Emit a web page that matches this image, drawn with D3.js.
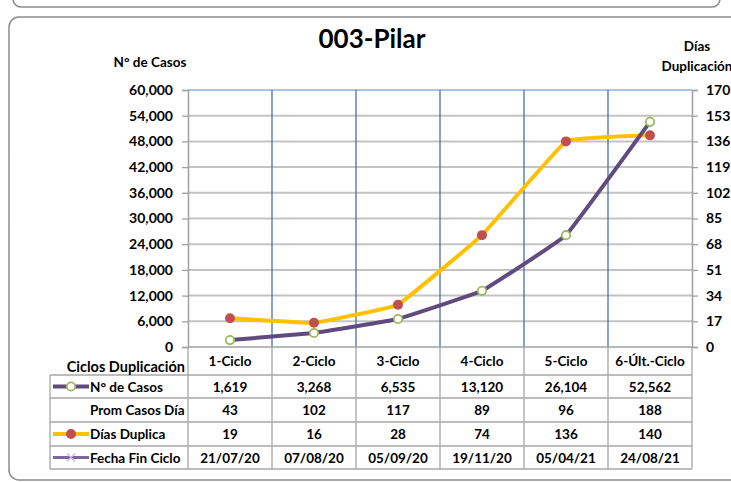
<!DOCTYPE html>
<html>
<head>
<meta charset="utf-8">
<script src="https://cdn.jsdelivr.net/npm/d3@7"></script>
<style>
  body { margin: 0; background: #fff; }
  svg text { font-family: Lato, "Noto Sans", sans-serif; font-weight: bold; fill: #000; }
</style>
</head>
<body>
<div id="graph"></div>
<script>
// chart data
var ciclos = ["1-Ciclo", "2-Ciclo", "3-Ciclo", "4-Ciclo", "5-Ciclo", "6-Últ.-Ciclo"];
var casos = [1619, 3268, 6535, 13120, 26104, 52562];
var promCasosDia = [43, 102, 117, 89, 96, 188];
var diasDuplica = [19, 16, 28, 74, 136, 140];
var fechaFin = ["21/07/20", "07/08/20", "05/09/20", "19/11/20", "05/04/21", "24/08/21"];
var leftTicks = [0, 6000, 12000, 18000, 24000, 30000, 36000, 42000, 48000, 54000, 60000];
var rightTicks = [0, 17, 34, 51, 68, 85, 102, 119, 136, 153, 170];

var svgWidth = 731, svgHeight = 482;
var plot = {left: 188, right: 692, top: 90, bottom: 347};

var svg = d3.select("#graph").append("svg")
  .attr("width", svgWidth)
  .attr("height", svgHeight);

// panel frames
svg.append("rect")
  .attr("x", 13).attr("y", -20).attr("width", 707).attr("height", 27)
  .attr("rx", 8).attr("fill", "none").attr("stroke", "#8c8c8c").attr("stroke-width", 1.5);
svg.append("rect")
  .attr("x", 9).attr("y", 17).attr("width", 740).attr("height", 463)
  .attr("rx", 10).attr("fill", "none").attr("stroke", "#8c8c8c").attr("stroke-width", 1.5);

var x = d3.scaleBand().domain(ciclos).range([plot.left, plot.right]);
var yLeft = d3.scaleLinear().domain([0, 60000]).range([plot.bottom, plot.top]);
var yRight = d3.scaleLinear().domain([0, 170]).range([plot.bottom, plot.top]);

// horizontal grid
svg.append("g").selectAll("line").data(leftTicks.slice(1, -1)).join("line")
  .attr("x1", plot.left).attr("x2", plot.right)
  .attr("y1", d => yLeft(d)).attr("y2", d => yLeft(d))
  .attr("stroke", "#c3c3c3").attr("stroke-width", 2);
svg.append("line")
  .attr("x1", plot.left).attr("x2", plot.right)
  .attr("y1", plot.top).attr("y2", plot.top)
  .attr("stroke", "#8eb0dc").attr("stroke-width", 1.5);

// vertical category lines
svg.append("g").selectAll("line").data(ciclos.slice(1)).join("line")
  .attr("x1", d => x(d)).attr("x2", d => x(d))
  .attr("y1", plot.top).attr("y2", plot.bottom)
  .attr("stroke", "#4a6fa5").attr("stroke-width", 1.3);

// axes
var leftAxis = d3.axisLeft(yLeft).tickValues(leftTicks).tickSize(6).tickPadding(9)
  .tickFormat(d3.format(","));
var gl = svg.append("g").attr("transform", `translate(${plot.left},0)`).call(leftAxis);
var rightAxis = d3.axisRight(yRight).tickValues(rightTicks).tickSize(6).tickPadding(8);
var gr = svg.append("g").attr("transform", `translate(${plot.right},0)`).call(rightAxis);
[gl, gr].forEach(function(g) {
  g.select(".domain").attr("stroke", "#a0a0a0").attr("stroke-width", 1.5);
  g.selectAll(".tick line").attr("stroke", "#a0a0a0").attr("stroke-width", 1.3);
  g.selectAll(".tick text").style("font-size", "14px").attr("fill", "#000");
});
svg.append("line").attr("x1", plot.left).attr("x2", plot.right)
  .attr("y1", plot.bottom).attr("y2", plot.bottom)
  .attr("stroke", "#a0a0a0").attr("stroke-width", 1.5);

// titles
svg.append("text").attr("x", 372).attr("y", 48).attr("text-anchor", "middle")
  .style("font-size", "26px").text("003-Pilar");
svg.append("text").attr("x", 150).attr("y", 67).attr("text-anchor", "middle")
  .style("font-size", "13.5px").text("N° de Casos");
svg.append("text").attr("x", 697).attr("y", 51).attr("text-anchor", "middle")
  .style("font-size", "13.5px").text("Días");
svg.append("text").attr("x", 697).attr("y", 71).attr("text-anchor", "middle")
  .style("font-size", "13.5px").text("Duplicación");

// lines (light smoothing)
var cx = d => x(d) + x.bandwidth() / 2;
var smooth = d3.curveCardinal.tension(0.8);
var casosLine = d3.line().x((d, i) => cx(ciclos[i])).y(d => yLeft(d)).curve(smooth);
var diasLine = d3.line().x((d, i) => cx(ciclos[i])).y(d => yRight(d)).curve(smooth);

svg.append("path").datum(diasDuplica).attr("d", diasLine)
  .attr("fill", "none").attr("stroke", "#ffc000").attr("stroke-width", 4);
svg.append("path").datum(casos).attr("d", casosLine)
  .attr("fill", "none").attr("stroke", "#5f4b7e").attr("stroke-width", 4);

svg.append("g").selectAll("circle").data(diasDuplica).join("circle")
  .attr("cx", (d, i) => cx(ciclos[i])).attr("cy", d => yRight(d)).attr("r", 5)
  .attr("fill", "#c0504d");
svg.append("g").selectAll("circle").data(casos).join("circle")
  .attr("cx", (d, i) => cx(ciclos[i])).attr("cy", d => yLeft(d)).attr("r", 4.2)
  .attr("fill", "#fff").attr("stroke", "#9bbb59").attr("stroke-width", 1.8);

// data table
var rowY = [347, 375, 398, 422, 446, 469];
var tableLeft = 50;
var rows = [casos.map(d3.format(",")), promCasosDia.map(String), diasDuplica.map(String), fechaFin];
var rowLabels = ["N° de Casos", "Prom Casos Día", "Días Duplica", "Fecha Fin Ciclo"];
var border = "#a6a6a6";
var tg = svg.append("g");

// horizontal borders
rowY.forEach(function(y, i) {
  if (i === 0) return;
  tg.append("line")
    .attr("x1", tableLeft).attr("x2", plot.right)
    .attr("y1", y).attr("y2", y)
    .attr("stroke", border).attr("stroke-width", 1.3);
});
// vertical borders
tg.append("line").attr("x1", tableLeft).attr("x2", tableLeft)
  .attr("y1", rowY[1]).attr("y2", rowY[5]).attr("stroke", border).attr("stroke-width", 1.3);
ciclos.concat([null]).forEach(function(c) {
  var xx = c ? x(c) : plot.right;
  tg.append("line").attr("x1", xx).attr("x2", xx)
    .attr("y1", rowY[0]).attr("y2", rowY[5]).attr("stroke", border).attr("stroke-width", 1.3);
});

// header row
tg.append("text").attr("x", 185).attr("y", 372).attr("text-anchor", "end")
  .style("font-size", "14.5px").text("Ciclos Duplicación");
tg.selectAll(".hdr").data(ciclos).join("text")
  .attr("x", d => cx(d)).attr("y", 366).attr("text-anchor", "middle")
  .style("font-size", "13.5px").text(d => d);

rows.forEach(function(vals, r) {
  var ty = (rowY[r + 1] + rowY[r + 2]) / 2 + 5;
  tg.selectAll(".r" + r).data(vals).join("text")
    .attr("x", (d, i) => cx(ciclos[i])).attr("y", ty).attr("text-anchor", "middle")
    .style("font-size", "13.5px").text(d => d);
  tg.append("text").attr("x", 90).attr("y", ty).style("font-size", "13.5px").text(rowLabels[r]);
});

// legend keys
function keyY(r) { return (rowY[r + 1] + rowY[r + 2]) / 2; }
tg.append("line").attr("x1", 53).attr("x2", 89).attr("y1", keyY(0)).attr("y2", keyY(0))
  .attr("stroke", "#5f4b7e").attr("stroke-width", 4);
tg.append("circle").attr("cx", 71).attr("cy", keyY(0)).attr("r", 4.2)
  .attr("fill", "#fff").attr("stroke", "#9bbb59").attr("stroke-width", 1.8);
tg.append("line").attr("x1", 53).attr("x2", 89).attr("y1", keyY(2)).attr("y2", keyY(2))
  .attr("stroke", "#ffc000").attr("stroke-width", 4);
tg.append("circle").attr("cx", 71).attr("cy", keyY(2)).attr("r", 5).attr("fill", "#c0504d");
tg.append("line").attr("x1", 53).attr("x2", 89).attr("y1", keyY(3)).attr("y2", keyY(3))
  .attr("stroke", "#8064a2").attr("stroke-width", 3);
tg.append("path")
  .attr("d", `M${67},${keyY(3) - 4}L${75},${keyY(3) + 4}M${67},${keyY(3) + 4}L${75},${keyY(3) - 4}`)
  .attr("stroke", "#c9bde0").attr("stroke-width", 1.3);
</script>
</body>
</html>
